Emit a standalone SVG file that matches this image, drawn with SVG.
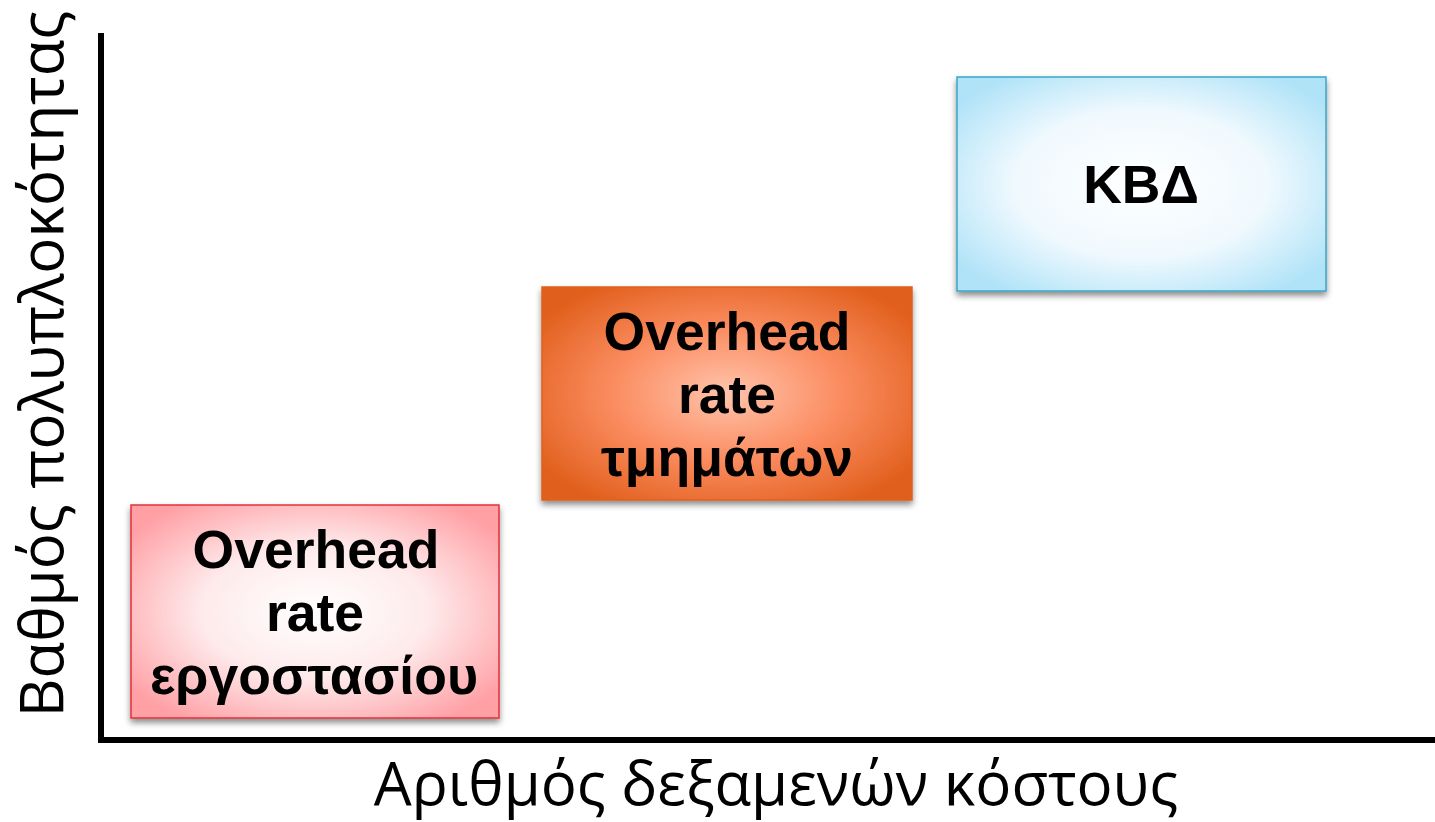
<svg xmlns="http://www.w3.org/2000/svg" width="1435" height="822" viewBox="0 0 1435 822">
<style>
.box-text{font-family:"Liberation Sans",Arial,sans-serif;font-weight:bold;font-size:53.5px;fill:#000;text-anchor:middle}
.axis-label{font-family:"Open Sans","Noto Sans",sans-serif;font-size:60px;fill:#000;text-anchor:middle}
.axis{stroke:#000;stroke-width:6;fill:none}
</style>
<defs>
<radialGradient id="gRed" cx="0.5" cy="0.5" r="0.62">
<stop offset="0" stop-color="#ffffff"/>
<stop offset="0.5" stop-color="#feeaeb"/>
<stop offset="1" stop-color="#ffa0a5"/>
</radialGradient>
<radialGradient id="gOrange" cx="0.5" cy="0.5" r="0.62">
<stop offset="0" stop-color="#ffc4ac"/>
<stop offset="0.5" stop-color="#fb8c60"/>
<stop offset="1" stop-color="#e05e1a"/>
</radialGradient>
<radialGradient id="gBlue" cx="0.5" cy="0.5" r="0.62">
<stop offset="0" stop-color="#ffffff"/>
<stop offset="0.55" stop-color="#f0f9fe"/>
<stop offset="1" stop-color="#b0e3f8"/>
</radialGradient>
<filter id="shadow" x="-10%" y="-10%" width="120%" height="130%">
<feDropShadow dx="0" dy="4" stdDeviation="3" flood-color="#000" flood-opacity="0.45"/>
</filter>
</defs>
<rect width="1435" height="822" fill="#fff"/>
<g id="connectors">
<line class="axis" x1="101" y1="33" x2="101" y2="743"/>
<line class="axis" x1="98" y1="740" x2="1435" y2="740"/>
</g>
<g id="y-label">
<text class="axis-label" transform="translate(63,364) rotate(-90)">Βαθμός πολυπλοκότητας</text>
</g>
<g id="x-label">
<text class="axis-label" x="776" y="805">Αριθμός δεξαμενών κόστους</text>
</g>
<g id="node-factory">
<rect x="131" y="505" width="368" height="213" fill="url(#gRed)" stroke="#e2313b" stroke-width="1.5" filter="url(#shadow)"/>
<text class="box-text" x="316" y="568">Overhead</text>
<text class="box-text" x="315" y="631">rate</text>
<text class="box-text" x="314" y="694">εργοστασίου</text>
</g>
<g id="node-departments">
<rect x="542" y="287" width="370" height="213" fill="url(#gOrange)" stroke="#e0601c" stroke-width="1.5" filter="url(#shadow)"/>
<text class="box-text" x="727" y="350">Overhead</text>
<text class="box-text" x="727" y="413">rate</text>
<text class="box-text" x="727" y="476">τμημάτων</text>
</g>
<g id="node-kbd">
<rect x="957" y="77" width="369" height="214" fill="url(#gBlue)" stroke="#3aa6c6" stroke-width="1.5" filter="url(#shadow)"/>
<text class="box-text" x="1141" y="203">ΚΒΔ</text>
</g>
</svg>
